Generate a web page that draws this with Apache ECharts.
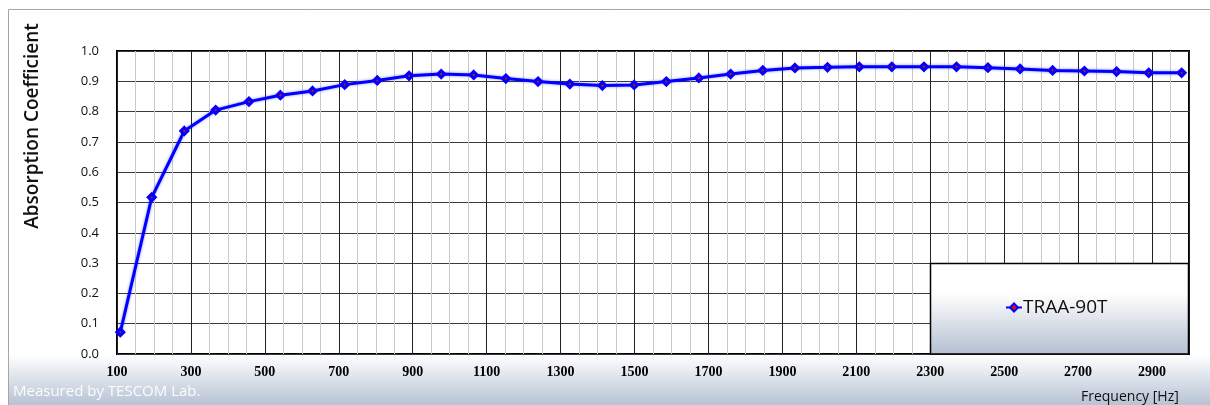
<!DOCTYPE html>
<html>
<head>
<meta charset="utf-8">
<title>Absorption Coefficient - TRAA-90T</title>
<script src="https://cdn.jsdelivr.net/npm/echarts@6/dist/echarts.min.js"></script>
<style>
  html, body { margin: 0; padding: 0; background: #fff; }
  #chart { width: 1210px; height: 405px; }
</style>
</head>
<body>
<div id="chart"></div>
<script>
// measured points (Hz, absorption coefficient)
const frequency = [109, 194, 282, 367, 457, 542, 629, 716, 804, 890, 977, 1065, 1152, 1239, 1325, 1413, 1499,
                   1586, 1674, 1760, 1847, 1934, 2022, 2108, 2196, 2283, 2371, 2456, 2543, 2631, 2717, 2804, 2891, 2980];
const absorption = [0.072, 0.517, 0.736, 0.805, 0.833, 0.854, 0.868, 0.889, 0.903, 0.918, 0.924, 0.921, 0.909, 0.899, 0.891, 0.886, 0.888,
                    0.899, 0.911, 0.924, 0.936, 0.944, 0.946, 0.948, 0.948, 0.948, 0.948, 0.945, 0.941, 0.936, 0.934, 0.932, 0.928, 0.928];
const seriesName = 'TRAA-90T';

// axis ranges
const xMin = 100, xMax = 3000, xStep = 200, xMinorStep = 50;
const yMin = 0, yMax = 1, yStep = 0.1;

const chart = echarts.init(document.getElementById('chart'));

const option = {
    animation: false,
    grid: {
        left: 117,
        top: 51,
        width: 1072,
        height: 303,
        show: true,
        borderColor: '#000',
        borderWidth: 2,
        backgroundColor: 'transparent'
    },
    xAxis: [
        {
            // light 50 Hz grid
            type: 'value',
            position: 'bottom',
            min: xMin,
            max: xMax,
            interval: xMinorStep,
            axisLine: { show: false },
            axisTick: { show: false },
            axisLabel: { show: false },
            splitLine: { show: true, lineStyle: { color: '#c8c8c8', width: 1 } }
        },
        {
            type: 'value',
            position: 'bottom',
            min: xMin,
            max: xMax,
            interval: xStep,
            axisLine: { show: false },
            axisTick: { show: false },
            axisLabel: {
                margin: 11,
                color: '#000',
                fontFamily: 'Liberation Serif',
                fontWeight: 'bold',
                fontSize: 14,
                formatter: v => (v >= xMax ? '' : String(v))
            },
            splitLine: { show: true, lineStyle: { color: '#222', width: 1 } }
        }
    ],
    yAxis: {
        type: 'value',
        min: yMin,
        max: yMax,
        interval: yStep,
        axisLine: { show: false },
        axisTick: { show: false },
        axisLabel: {
            margin: 18,
            color: '#111',
            fontFamily: 'Open Sans',
            fontWeight: 500,
            fontSize: 13,
            formatter: v => v.toFixed(1)
        },
        splitLine: { show: true, lineStyle: { color: '#3a3a3a', width: 1 } }
    },
    legend: {
        data: [seriesName],
        left: 1005,
        top: 298,
        padding: 0,
        itemWidth: 16,
        itemHeight: 10,
        z: 6,
        textStyle: {
            color: '#111',
            fontFamily: 'Open Sans',
            fontSize: 19,
            padding: [0, 0, 0, -4]
        }
    },
    graphic: [
        {
            type: 'rect',
            z: -10,
            silent: true,
            shape: { x: 8.5, y: 9.5, width: 1220, height: 410 },
            style: {
                stroke: '#a6a6a6',
                lineWidth: 1,
                fill: {
                    type: 'linear', x: 0, y: 0, x2: 0, y2: 1,
                    colorStops: [
                        { offset: 0, color: '#ffffff' },
                        { offset: 0.84, color: '#ffffff' },
                        { offset: 0.96, color: '#b9c4d5' },
                        { offset: 1, color: '#b5c0d2' }
                    ]
                }
            }
        },
        {
            // legend box
            type: 'rect',
            z: 5,
            silent: true,
            shape: { x: 930.5, y: 263.5, width: 258, height: 90.5 },
            style: {
                stroke: '#000',
                lineWidth: 1.5,
                fill: {
                    type: 'linear', x: 0, y: 0, x2: 0, y2: 1,
                    colorStops: [
                        { offset: 0, color: '#ffffff' },
                        { offset: 0.33, color: '#ffffff' },
                        { offset: 1, color: '#b4bfd1' }
                    ]
                }
            }
        },
        {
            type: 'text',
            z: 5,
            x: 33,
            y: 126,
            rotation: Math.PI / 2,
            style: {
                text: 'Absorption Coefficient',
                fill: '#111',
                font: '600 19px "Open Sans"',
                align: 'center',
                verticalAlign: 'middle'
            }
        },
        {
            type: 'text',
            z: 5,
            x: 1081,
            y: 397,
            style: {
                text: 'Frequency [Hz]',
                fill: '#111',
                font: '14px "Open Sans"',
                align: 'left',
                verticalAlign: 'middle'
            }
        },
        {
            type: 'text',
            z: 5,
            x: 13,
            y: 392,
            style: {
                text: 'Measured by TESCOM Lab.',
                fill: 'rgba(255,255,255,0.92)',
                font: '15px "Open Sans"',
                align: 'left',
                verticalAlign: 'middle'
            }
        }
    ],
    series: [
        {
            name: seriesName,
            type: 'line',
            xAxisIndex: 1,
            data: frequency.map((f, i) => [f, absorption[i]]),
            symbol: 'diamond',
            symbolSize: 7,
            lineStyle: {
                color: '#0000ff',
                width: 3,
                shadowBlur: 3,
                shadowColor: 'rgba(0,0,255,0.45)'
            },
            itemStyle: {
                color: '#ff0000',
                borderColor: '#0000ff',
                borderWidth: 3
            },
            z: 3
        }
    ]
};

chart.setOption(option);
</script>
</body>
</html>
